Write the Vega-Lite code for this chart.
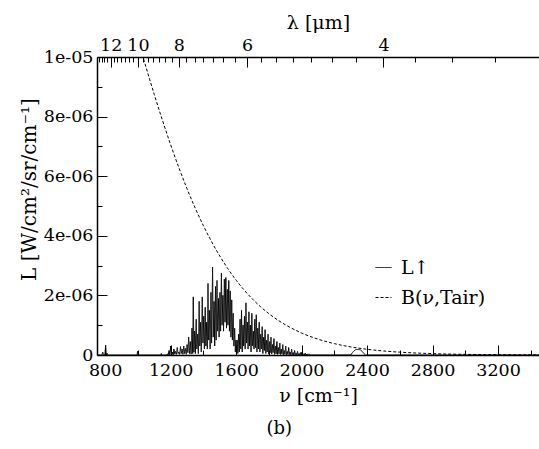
{
  "$schema": "https://vega.github.io/schema/vega-lite/v6.json",
  "width": 442,
  "height": 298,
  "autosize": {"type": "none"},
  "padding": {"left": 97, "top": 57, "right": 0, "bottom": 94},
  "background": "white",
  "title": {"text": "(b)", "orient": "bottom", "anchor": "middle", "frame": "bounds", "font": "DejaVu Serif", "fontSize": 18, "fontWeight": "normal", "color": "black", "offset": 14},
  "datasets": {
    "spec": [
      {"nu":748,"L":0},{"nu":780,"L":0},{"nu":785,"L":1e-7},{"nu":790,"L":0},{"nu":798,"L":0},{"nu":803,"L":3.3e-7},{"nu":807,"L":0},{"nu":812,"L":6e-8},{"nu":816,"L":0},
      {"nu":995,"L":0},{"nu":998,"L":1.3e-7},{"nu":1001,"L":0},{"nu":1140,"L":0},{"nu":1143,"L":5e-8},{"nu":1146,"L":0},
      {"nu":1175,"L":0},{"nu":1180,"L":4e-8},{"nu":1185,"L":0},{"nu":1190,"L":1.5e-7},{"nu":1195,"L":0},{"nu":1200,"L":3e-7},{"nu":1205,"L":2e-8},{"nu":1210,"L":1e-7},{"nu":1215,"L":0},{"nu":1220,"L":2e-7},{"nu":1225,"L":3e-8},{"nu":1230,"L":1.2e-7},{"nu":1235,"L":2e-8},{"nu":1240,"L":2.5e-7},{"nu":1245,"L":5e-8},{"nu":1250,"L":1e-7},{"nu":1255,"L":2e-8},{"nu":1260,"L":2.8e-7},{"nu":1265,"L":5e-8},{"nu":1270,"L":2e-7},{"nu":1275,"L":2e-8},{"nu":1280,"L":3e-7},{"nu":1285,"L":5e-8},{"nu":1290,"L":2.2e-7},{"nu":1295,"L":2e-8},{"nu":1300,"L":3.5e-7},{"nu":1305,"L":8e-8},
      {"nu":1310,"L":6e-7},{"nu":1315,"L":5e-8},{"nu":1320,"L":4.5e-7},{"nu":1325,"L":3e-8},{"nu":1330,"L":9e-7},{"nu":1335,"L":5e-8},{"nu":1338,"L":1.95e-6},{"nu":1342,"L":1e-7},{"nu":1347,"L":8e-7},{"nu":1351,"L":5e-8},{"nu":1356,"L":1.2e-6},{"nu":1360,"L":2e-7},{"nu":1365,"L":7e-7},{"nu":1369,"L":5e-8},{"nu":1374,"L":1.8e-6},{"nu":1378,"L":3e-7},{"nu":1383,"L":1.1e-6},{"nu":1387,"L":1e-7},{"nu":1393,"L":1.95e-6},{"nu":1397,"L":4e-7},{"nu":1402,"L":1.3e-6},{"nu":1406,"L":2e-7},{"nu":1411,"L":1.6e-6},{"nu":1415,"L":3e-7},{"nu":1420,"L":1.1e-6},{"nu":1424,"L":2e-7},{"nu":1428,"L":2.4e-6},{"nu":1432,"L":5e-7},{"nu":1437,"L":1.5e-6},{"nu":1441,"L":2e-7},{"nu":1446,"L":2.1e-6},{"nu":1450,"L":4e-7},{"nu":1456,"L":2.95e-6},{"nu":1460,"L":6e-7},{"nu":1465,"L":1.8e-6},{"nu":1469,"L":3e-7},{"nu":1474,"L":2.3e-6},{"nu":1478,"L":5e-7},{"nu":1483,"L":2.5e-6},{"nu":1487,"L":8e-7},{"nu":1492,"L":1.9e-6},{"nu":1496,"L":6e-7},{"nu":1501,"L":2.1e-6},{"nu":1505,"L":8e-7},{"nu":1510,"L":2.75e-6},{"nu":1514,"L":1e-6},{"nu":1519,"L":2e-6},{"nu":1523,"L":8e-7},{"nu":1528,"L":2.55e-6},{"nu":1532,"L":1.1e-6},{"nu":1537,"L":2.6e-6},{"nu":1541,"L":9e-7},{"nu":1546,"L":2.2e-6},{"nu":1550,"L":1e-6},{"nu":1555,"L":2.5e-6},{"nu":1559,"L":8e-7},{"nu":1564,"L":2.15e-6},{"nu":1568,"L":6e-7},{"nu":1573,"L":1.85e-6},{"nu":1577,"L":5e-7},{"nu":1582,"L":1.4e-6},{"nu":1586,"L":3e-7},{"nu":1591,"L":9e-7},{"nu":1595,"L":1e-7},{"nu":1599,"L":5e-7},{"nu":1602,"L":3e-8},
      {"nu":1606,"L":5e-7},{"nu":1610,"L":5e-8},{"nu":1615,"L":7e-7},{"nu":1619,"L":1e-7},{"nu":1624,"L":1.2e-6},{"nu":1628,"L":2e-7},{"nu":1633,"L":1.5e-6},{"nu":1637,"L":1e-7},{"nu":1642,"L":1e-6},{"nu":1646,"L":3e-7},{"nu":1651,"L":1.3e-6},{"nu":1655,"L":2e-7},{"nu":1660,"L":1.75e-6},{"nu":1664,"L":4e-7},{"nu":1669,"L":1.1e-6},{"nu":1673,"L":2e-7},{"nu":1678,"L":1.45e-6},{"nu":1682,"L":3e-7},{"nu":1687,"L":1e-6},{"nu":1691,"L":1e-7},{"nu":1696,"L":1.4e-6},{"nu":1700,"L":3e-7},{"nu":1705,"L":8e-7},{"nu":1709,"L":2e-7},{"nu":1714,"L":1.2e-6},{"nu":1718,"L":2.5e-7},{"nu":1723,"L":1.35e-6},{"nu":1727,"L":1e-7},{"nu":1732,"L":9e-7},{"nu":1736,"L":2e-7},{"nu":1741,"L":1.1e-6},{"nu":1745,"L":1e-7},{"nu":1750,"L":7e-7},{"nu":1754,"L":2e-7},{"nu":1759,"L":9.5e-7},{"nu":1763,"L":5e-8},{"nu":1768,"L":6e-7},{"nu":1772,"L":1.5e-7},{"nu":1777,"L":8.5e-7},{"nu":1781,"L":5e-8},{"nu":1786,"L":5e-7},{"nu":1790,"L":1e-7},{"nu":1795,"L":7e-7},{"nu":1799,"L":3e-8},
      {"nu":1804,"L":4.5e-7},{"nu":1808,"L":8e-8},{"nu":1813,"L":6e-7},{"nu":1817,"L":3e-8},{"nu":1822,"L":3.5e-7},{"nu":1826,"L":8e-8},{"nu":1831,"L":5.5e-7},{"nu":1835,"L":2e-8},{"nu":1840,"L":3e-7},{"nu":1844,"L":4e-8},{"nu":1849,"L":4.5e-7},{"nu":1853,"L":2e-8},{"nu":1858,"L":2.5e-7},{"nu":1862,"L":4e-8},{"nu":1867,"L":4e-7},{"nu":1871,"L":2e-8},{"nu":1876,"L":2e-7},{"nu":1880,"L":3e-8},{"nu":1885,"L":3.5e-7},{"nu":1889,"L":1e-8},{"nu":1894,"L":1.5e-7},{"nu":1898,"L":2e-8},{"nu":1903,"L":3e-7},{"nu":1907,"L":1e-8},{"nu":1912,"L":1.2e-7},{"nu":1916,"L":2e-8},{"nu":1921,"L":2.5e-7},{"nu":1925,"L":1e-8},{"nu":1930,"L":1e-7},{"nu":1934,"L":0},{"nu":1939,"L":2e-7},{"nu":1943,"L":1e-8},{"nu":1948,"L":8e-8},{"nu":1952,"L":0},{"nu":1957,"L":1.5e-7},{"nu":1961,"L":1e-8},{"nu":1966,"L":6e-8},{"nu":1970,"L":0},{"nu":1975,"L":1.2e-7},{"nu":1979,"L":0},{"nu":1984,"L":5e-8},{"nu":1988,"L":0},{"nu":1993,"L":8e-8},{"nu":1997,"L":0},{"nu":2002,"L":1e-7},{"nu":2006,"L":0},{"nu":2012,"L":4e-8},{"nu":2016,"L":0},{"nu":2022,"L":6e-8},{"nu":2026,"L":0},{"nu":2034,"L":3e-8},{"nu":2038,"L":0},{"nu":2045,"L":4e-8},{"nu":2049,"L":0},
      {"nu":2300,"L":0},{"nu":2310,"L":8e-8},{"nu":2320,"L":1.4e-7},{"nu":2330,"L":1.8e-7},{"nu":2345,"L":1.9e-7},{"nu":2360,"L":1.7e-7},{"nu":2370,"L":1.2e-7},{"nu":2380,"L":5e-8},{"nu":2390,"L":0},{"nu":3450,"L":0}
    ],
    "planck": [
      {"nu":1000,"B":1.0578e-5},{"nu":1050,"B":9.6455e-6},{"nu":1100,"B":8.7402e-6},{"nu":1150,"B":7.8733e-6},{"nu":1200,"B":7.0541e-6},{"nu":1250,"B":6.2884e-6},{"nu":1300,"B":5.5797e-6},{"nu":1350,"B":4.9296e-6},{"nu":1400,"B":4.3381e-6},{"nu":1450,"B":3.803e-6},{"nu":1500,"B":3.3222e-6},{"nu":1550,"B":2.8926e-6},{"nu":1600,"B":2.5108e-6},{"nu":1650,"B":2.1731e-6},{"nu":1700,"B":1.8758e-6},{"nu":1750,"B":1.6149e-6},{"nu":1800,"B":1.3869e-6},{"nu":1900,"B":1.0161e-6},{"nu":2000,"B":7.382e-7},{"nu":2100,"B":5.324e-7},{"nu":2200,"B":3.813e-7},{"nu":2300,"B":2.714e-7},{"nu":2400,"B":1.921e-7},{"nu":2500,"B":1.353e-7},{"nu":2600,"B":9.48e-8},{"nu":2800,"B":4.59e-8},{"nu":3000,"B":2.19e-8},{"nu":3200,"B":1.03e-8},{"nu":3450,"B":4e-9}
    ],
    "anchor": [{"nu": 1000, "L": 0}]
  },
  "config": {
    "view": {"stroke": null},
    "axis": {"grid": false, "labelFont": "DejaVu Serif", "labelFontSize": 17.5, "labelColor": "black", "titleFont": "DejaVu Serif", "titleFontSize": 19, "titleFontWeight": "normal", "titleColor": "black", "domainColor": "black", "tickColor": "black", "domainWidth": 1.5, "tickWidth": 1}
  },
  "resolve": {"axis": {"x": "independent", "y": "independent"}},
  "layer": [
    {
      "data": {"name": "spec"},
      "mark": {"type": "line", "color": "black", "strokeWidth": 1, "clip": true},
      "encoding": {
        "x": {"field": "nu", "type": "quantitative", "scale": {"domain": [750, 3450], "nice": false, "zero": false},
              "axis": {"orient": "bottom", "values": [800, 1200, 1600, 2000, 2400, 2800, 3200], "format": "d", "ticks": false, "labelPadding": 6, "title": "ν  [cm⁻¹]", "titlePadding": 8}},
        "y": {"field": "L", "type": "quantitative", "scale": {"domain": [0, 1e-5], "nice": false, "zero": true},
              "axis": {"orient": "left", "values": [0, 2e-6, 4e-6, 6e-6, 8e-6, 1e-5], "labelExpr": "datum.value == 0 ? '0' : (datum.value > 9.9e-6 ? '1e-05' : round(datum.value * 1e6) + 'e-06')", "ticks": false, "labelPadding": 4, "title": "L [W/cm²/sr/cm⁻¹]", "titlePadding": 4, "titleFontSize": 20, "titleY": 132}},
        "strokeDash": {"datum": "L↑", "type": "nominal",
              "scale": {"domain": ["L↑", "B(ν,Tair)"], "range": [[1, 0], [3, 2]]},
              "legend": {"orient": "none", "legendX": 277, "legendY": 201, "title": null, "symbolType": "stroke", "symbolSize": 256, "symbolStrokeColor": "black", "symbolStrokeWidth": 1, "labelFont": "DejaVu Serif", "labelFontSize": 19, "labelColor": "black", "labelOffset": 8, "rowPadding": 10, "padding": 0}}
      }
    },
    {
      "data": {"name": "planck"},
      "mark": {"type": "line", "color": "black", "strokeWidth": 1, "clip": true, "interpolate": "monotone"},
      "encoding": {
        "x": {"field": "nu", "type": "quantitative", "axis": {"orient": "bottom", "values": [800, 1200, 1600, 2000, 2400, 2800, 3200], "labels": false, "domain": false, "tickSize": -10, "title": null}},
        "y": {"field": "B", "type": "quantitative", "axis": {"orient": "left", "values": [0, 2e-6, 4e-6, 6e-6, 8e-6, 1e-5], "labels": false, "domain": false, "tickSize": -10, "title": null}},
        "strokeDash": {"datum": "B(ν,Tair)", "type": "nominal"}
      }
    },
    {
      "data": {"name": "anchor"},
      "mark": {"type": "point", "opacity": 0},
      "encoding": {
        "x": {"field": "nu", "type": "quantitative", "axis": {"orient": "bottom", "values": [1000, 1400, 1800, 2200, 2600, 3000, 3400], "labels": false, "domain": false, "tickSize": -5, "title": null}},
        "y": {"field": "L", "type": "quantitative", "axis": {"orient": "left", "values": [1e-6, 3e-6, 5e-6, 7e-6, 9e-6], "labels": false, "domain": false, "tickSize": -5, "title": null}}
      }
    },
    {
      "data": {"name": "anchor"},
      "mark": {"type": "point", "opacity": 0},
      "encoding": {
        "x": {"field": "nu", "type": "quantitative", "axis": {"orient": "top", "values": [833.333, 1000, 1250, 1666.667, 2500], "labelExpr": "round(10000 / datum.value)", "ticks": false, "labelPadding": 3, "title": "λ [μm]", "titlePadding": 4}},
        "y": {"field": "L", "type": "quantitative", "axis": null}
      }
    },
    {
      "data": {"name": "anchor"},
      "mark": {"type": "point", "opacity": 0},
      "encoding": {
        "x": {"field": "nu", "type": "quantitative", "axis": {"orient": "top", "values": [833.333, 1000, 1250, 1666.667, 2500], "labels": false, "domain": false, "tickSize": -10, "title": null}},
        "y": {"field": "L", "type": "quantitative", "axis": null}
      }
    },
    {
      "data": {"name": "anchor"},
      "mark": {"type": "point", "opacity": 0},
      "encoding": {
        "x": {"field": "nu", "type": "quantitative", "axis": {"orient": "top", "values": [760.87, 777.78, 795.45, 813.95, 853.66, 875, 897.44, 921.05, 945.95, 972.22, 1029.41, 1060.61, 1093.75, 1129.03, 1166.67, 1206.9, 1296.3, 1346.15, 1400, 1458.33, 1521.74, 1590.91, 1750, 1842.11, 1944.44, 2058.82, 2187.5, 2333.33, 2692.31, 2916.67, 3181.82], "labels": false, "domain": false, "tickSize": -5, "title": null}},
        "y": {"field": "L", "type": "quantitative", "axis": null}
      }
    }
  ]
}
